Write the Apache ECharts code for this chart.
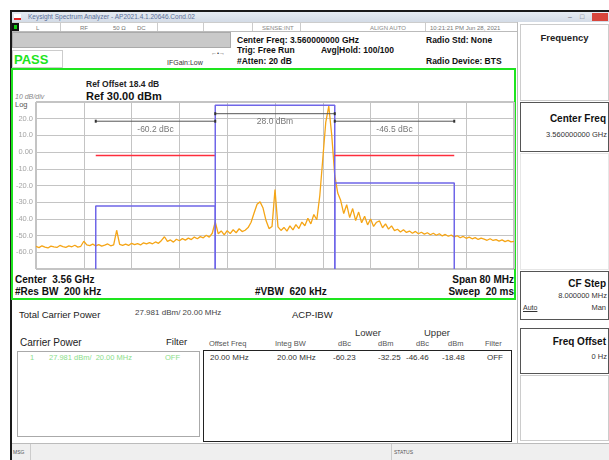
<!DOCTYPE html>
<html>
<head>
<meta charset="utf-8">
<title>ACP</title>
<script src="https://cdn.jsdelivr.net/npm/echarts@6/dist/echarts.min.js"></script>
<style>
body { margin: 0; }
#page { position: relative; width: 609px; height: 460px; background: #fff; overflow: hidden; font-family: "Liberation Sans", Arial, sans-serif; color: #111; }
.a { position: absolute; white-space: pre; line-height: 1; }
.b { font-weight: bold; }
.box { position: absolute; box-sizing: border-box; }
#chart { position: absolute; left: 0; top: 0; width: 609px; height: 460px; z-index: 5; }
</style>
</head>
<body>
<div id="page">
  <!-- window frame -->
  <div class="box" style="left:10px;top:10px;width:599px;height:450px;border-top:2px solid #1a1a1a;border-left:2px solid #1a1a1a;"></div>
  <div class="box" style="left:12px;top:12px;width:597px;height:10px;background:linear-gradient(#e6ecf3,#d3dbe6);"></div>
  <div class="box" style="left:14px;top:14px;width:7px;height:6px;background:#fff;border-bottom:2px solid #d22;"></div>
  <div class="a" style="left:28px;top:14px;font-size:6.5px;color:#5a6f98;">Keysight Spectrum Analyzer - AP2021.4.1.20646.Cond.02</div>
  <div class="a" style="left:568px;top:13px;font-size:7px;color:#667;">–</div>
  <div class="a" style="left:580px;top:13px;font-size:7px;color:#667;">□</div>
  <div class="box" style="left:592px;top:13px;width:16px;height:8px;background:#d8453b;"></div>

  <!-- toolbar -->
  <div class="box" style="left:12px;top:22px;width:505px;height:10px;background:#fff;border-top:1px solid #ccc;border-bottom:1px solid #bbb;"></div>
  <div class="box" style="left:12px;top:23px;width:7px;height:8px;background:#1c1;border:2px solid #111;"></div>
  <div class="a" style="left:36px;top:24.5px;font-size:6px;color:#777;">L</div>
  <div class="a" style="left:80px;top:24.5px;font-size:6px;color:#777;">RF</div>
  <div class="a" style="left:113px;top:24.5px;font-size:6px;color:#777;">50 Ω</div>
  <div class="a" style="left:137px;top:24.5px;font-size:6px;color:#777;">DC</div>
  <div class="a" style="left:262px;top:24.5px;font-size:6px;color:#888;">SENSE:INT</div>
  <div class="a" style="left:370px;top:24.5px;font-size:6px;color:#888;">ALIGN AUTO</div>
  <div class="a" style="left:430px;top:24.5px;font-size:6px;color:#777;">10:21:21 PM Jun 28, 2021</div>
  <div class="box" style="left:60px;top:23px;width:1px;height:8px;background:#ccc;"></div>
  <div class="box" style="left:157px;top:23px;width:1px;height:8px;background:#ccc;"></div>
  <div class="box" style="left:203px;top:23px;width:1px;height:8px;background:#ccc;"></div>
  <div class="box" style="left:252px;top:23px;width:1px;height:8px;background:#ccc;"></div>
  <div class="box" style="left:300px;top:23px;width:1px;height:8px;background:#ccc;"></div>
  <div class="box" style="left:425px;top:23px;width:1px;height:8px;background:#ccc;"></div>

  <!-- status area -->
  <div class="box" style="left:12px;top:32px;width:219px;height:16px;background:#c9c9c9;border:1px solid #aaa;"></div>
  <div class="a b" style="left:237px;top:35.5px;font-size:8.5px;">Center Freq: 3.560000000 GHz</div>
  <div class="a b" style="left:237px;top:46px;font-size:8.5px;">Trig: Free Run</div>
  <div class="a b" style="left:237px;top:57px;font-size:8.5px;">#Atten: 20 dB</div>
  <div class="a b" style="left:321px;top:46px;font-size:8.5px;">Avg|Hold: 100/100</div>
  <div class="a b" style="left:426px;top:35.5px;font-size:8.5px;">Radio Std: None</div>
  <div class="a b" style="left:426px;top:56.5px;font-size:8.5px;">Radio Device: BTS</div>
  <div class="box" style="left:12px;top:50px;width:51px;height:18px;border:1px solid #ccc;"></div>
  <div class="a b" style="left:14px;top:52.5px;font-size:13px;color:#1de41d;">PASS</div>
  <div class="a" style="left:167px;top:59px;font-size:7px;color:#333;">IFGain:Low</div>
  <div class="a" style="left:211px;top:50px;font-size:6px;color:#444;">←•→</div>

  <!-- graph frame -->
  <div class="box" style="left:11px;top:68px;width:505px;height:232px;border:2px solid #1ee41e;background:#fff;"></div>
  <div class="a b" style="left:86px;top:80px;font-size:8.5px;color:#222;">Ref Offset 18.4 dB</div>
  <div class="a b" style="left:86px;top:90.5px;font-size:11px;">Ref 30.00 dBm</div>
  <div class="a" style="left:15px;top:93px;font-size:7px;color:#888;font-style:italic;">10 dB/div</div>
  <div class="a" style="left:15px;top:100.5px;font-size:7.5px;color:#555;">Log</div>
  <div class="a b" style="left:15px;top:275px;font-size:10px;">Center  3.56 GHz</div>
  <div class="a b" style="left:15px;top:287px;font-size:10px;">#Res BW  200 kHz</div>
  <div class="a b" style="left:255px;top:287px;font-size:10px;">#VBW  620 kHz</div>
  <div class="a b" style="right:95px;top:275px;font-size:10px;">Span 80 MHz</div>
  <div class="a b" style="right:95px;top:287px;font-size:10px;">Sweep  20 ms</div>

  <!-- results -->
  <div class="a" style="left:19px;top:310px;font-size:9.5px;color:#222;">Total Carrier Power</div>
  <div class="a" style="left:135px;top:309px;font-size:8px;color:#444;">27.981 dBm/ 20.00 MHz</div>
  <div class="a" style="left:292px;top:310px;font-size:9.5px;color:#222;">ACP-IBW</div>
  <div class="a" style="left:355px;top:327.5px;font-size:9.5px;color:#333;">Lower</div>
  <div class="a" style="left:424px;top:327.5px;font-size:9.5px;color:#333;">Upper</div>
  <div class="a" style="left:20px;top:338px;font-size:10px;color:#222;">Carrier Power</div>
  <div class="a" style="left:166px;top:337px;font-size:9.5px;color:#222;">Filter</div>
  <div class="a" style="left:209px;top:340px;font-size:7.5px;color:#555;">Offset Freq</div>
  <div class="a" style="left:275px;top:340px;font-size:7.5px;color:#555;">Integ BW</div>
  <div class="a" style="left:338px;top:340px;font-size:7.5px;color:#555;">dBc</div>
  <div class="a" style="left:378px;top:340px;font-size:7.5px;color:#555;">dBm</div>
  <div class="a" style="left:416px;top:340px;font-size:7.5px;color:#555;">dBc</div>
  <div class="a" style="left:448px;top:340px;font-size:7.5px;color:#555;">dBm</div>
  <div class="a" style="left:485px;top:340px;font-size:7.5px;color:#555;">Filter</div>
  <div class="box" style="left:17px;top:351px;width:183px;height:86px;border:1px solid #aaa;"></div>
  <div class="box" style="left:203px;top:350px;width:309px;height:92px;border:1.5px solid #222;"></div>
  <div class="a" style="left:30px;top:354px;font-size:7.5px;color:#8ade8a;">1</div>
  <div class="a" style="left:49px;top:354px;font-size:7.5px;color:#8ade8a;">27.981 dBm/  20.00 MHz</div>
  <div class="a" style="left:165px;top:354px;font-size:7.5px;color:#8ade8a;">OFF</div>
  <div class="a" style="left:210px;top:353.5px;font-size:8px;color:#333;">20.00 MHz</div>
  <div class="a" style="left:277px;top:353.5px;font-size:8px;color:#333;">20.00 MHz</div>
  <div class="a" style="left:333px;top:353.5px;font-size:8px;color:#333;">-60.23</div>
  <div class="a" style="left:378px;top:353.5px;font-size:8px;color:#333;">-32.25</div>
  <div class="a" style="left:406px;top:353.5px;font-size:8px;color:#333;">-46.46</div>
  <div class="a" style="left:442px;top:353.5px;font-size:8px;color:#333;">-18.48</div>
  <div class="a" style="left:487px;top:353.5px;font-size:8px;color:#333;">OFF</div>

  <!-- soft keys -->
  <div class="box" style="left:517px;top:22px;width:1px;height:421px;background:#bbb;"></div>
  <div class="box" style="left:520px;top:24px;width:89px;height:77px;border:1px solid #ccc;"></div>
  <div class="a b" style="left:520px;width:89px;text-align:center;top:33px;font-size:9.5px;color:#222;">Frequency</div>
  <div class="box" style="left:520px;top:102px;width:89px;height:50px;border:1px solid #555;"></div>
  <div class="a b" style="right:3px;top:114px;font-size:10px;">Center Freq</div>
  <div class="a" style="right:2px;top:131px;font-size:7.5px;color:#333;">3.560000000 GHz</div>
  <div class="box" style="left:520px;top:153px;width:89px;height:117px;border:1px solid #e6e6e6;"></div>
  <div class="box" style="left:520px;top:271px;width:89px;height:49px;border:1px solid #555;"></div>
  <div class="a b" style="right:3px;top:279px;font-size:10px;">CF Step</div>
  <div class="a" style="right:2px;top:292px;font-size:7.5px;color:#333;">8.000000 MHz</div>
  <div class="a" style="left:523px;top:304px;font-size:7px;color:#333;text-decoration:underline;">Auto</div>
  <div class="a" style="right:3px;top:304px;font-size:7.5px;color:#333;">Man</div>
  <div class="box" style="left:520px;top:328px;width:89px;height:46px;border:1px solid #555;"></div>
  <div class="a b" style="right:3px;top:337px;font-size:10px;">Freq Offset</div>
  <div class="a" style="right:2px;top:353px;font-size:7.5px;color:#333;">0 Hz</div>
  <div class="box" style="left:520px;top:375px;width:89px;height:66px;border:1px solid #ccc;"></div>

  <!-- message bar -->
  <div class="box" style="left:12px;top:443px;width:597px;height:17px;background:#efefef;border-top:1px solid #bbb;"></div>
  <div class="a" style="left:13px;top:450px;font-size:5px;color:#555;">MSG</div>
  <div class="box" style="left:30px;top:444px;width:1px;height:16px;background:#ccc;"></div>
  <div class="box" style="left:391px;top:444px;width:1px;height:16px;background:#ccc;"></div>
  <div class="a" style="left:394px;top:450px;font-size:5px;color:#555;">STATUS</div>

  <div id="chart"></div>
</div>

<script>
// trace, MHz / dBm
const traceFreq = [
  3520, 3520.5, 3521, 3521.5, 3522, 3522.5, 3523, 3523.5, 3524, 3524.5,
  3525, 3525.5, 3526, 3526.5, 3527, 3527.5, 3528, 3528.5, 3529, 3529.5,
  3530, 3530.5, 3531, 3531.5, 3532, 3532.5, 3533, 3533.5, 3534, 3534.5,
  3535, 3535.5, 3536, 3536.5, 3537, 3537.5, 3538, 3538.5, 3539, 3539.5,
  3540, 3540.5, 3541, 3541.5, 3542, 3542.5, 3543, 3543.5, 3544, 3544.5,
  3545, 3545.5, 3546, 3546.5, 3547, 3547.5, 3548, 3548.5, 3549, 3549.5,
  3550, 3550.5, 3551, 3551.5, 3552, 3552.5, 3553, 3553.5, 3554, 3554.5,
  3555, 3555.5, 3556, 3556.5, 3557, 3557.5, 3558, 3558.5, 3559, 3559.5,
  3560, 3560.5, 3561, 3561.5, 3562, 3562.5, 3563, 3563.5, 3564, 3564.5,
  3565, 3565.5, 3566, 3566.5, 3567, 3567.5, 3568, 3568.5, 3569, 3569.5,
  3570, 3570.5, 3571, 3571.5, 3572, 3572.5, 3573, 3573.5, 3574, 3574.5,
  3575, 3575.5, 3576, 3576.5, 3577, 3577.5, 3578, 3578.5, 3579, 3579.5,
  3580, 3580.5, 3581, 3581.5, 3582, 3582.5, 3583, 3583.5, 3584, 3584.5,
  3585, 3585.5, 3586, 3586.5, 3587, 3587.5, 3588, 3588.5, 3589, 3589.5,
  3590, 3590.5, 3591, 3591.5, 3592, 3592.5, 3593, 3593.5, 3594, 3594.5,
  3595, 3595.5, 3596, 3596.5, 3597, 3597.5, 3598, 3598.5, 3599, 3599.5,
  3600
];
const traceLevel = [
  -56.5, -57.2, -56.1, -56.9, -57.4, -56.3, -56.8, -57.1, -55.9, -56.6,
  -57.0, -56.2, -56.7, -55.8, -56.9, -56.4, -53.4, -55.6, -56.0, -55.1,
  -56.2, -55.4, -56.3, -55.7, -55.0, -56.1, -55.5, -46.8, -55.2, -55.8,
  -55.1, -55.9, -54.6, -55.4, -54.8, -55.6, -54.3, -55.0, -54.2, -54.9,
  -53.8, -54.6, -52.9, -50.7, -53.5, -52.6, -53.9, -52.2, -53.1, -51.8,
  -52.7, -51.5, -52.4, -50.9, -51.9, -50.6, -51.3, -49.8, -50.9, -48.6,
  -41.8, -48.9, -47.2, -49.6, -47.0, -48.8, -46.5, -48.3, -45.9, -47.6,
  -46.8, -45.2, -42.0, -36.5, -31.2, -29.8, -33.5, -41.0, -45.8, -44.6,
  -22.5, -44.8, -46.9, -45.1, -47.3, -44.2, -46.6, -43.4, -45.8, -41.9,
  -44.1, -39.6, -43.0, -37.4, -40.5, -26.0, -4.0, 18.0, 27.6, 10.0,
  -14.0, -24.5, -29.0, -36.8, -31.5, -39.2, -33.8, -41.0, -35.9, -42.3,
  -38.4, -43.6, -40.1, -44.5, -42.0, -41.2, -45.3, -43.0, -46.1, -44.2,
  -47.0, -46.2, -47.8, -46.5, -48.1, -47.3, -48.6, -47.5, -48.9, -48.0,
  -49.1, -48.3, -49.5, -48.6, -49.8, -48.9, -50.2, -49.3, -50.4, -49.7,
  -50.8, -50.1, -51.3, -50.5, -51.6, -50.9, -51.9, -51.2, -52.3, -51.5,
  -52.1, -52.8, -51.9, -52.9, -52.4, -53.3, -52.6, -53.6, -52.9, -53.8,
  -53.4
];

// lower adjacent, carrier, upper adjacent
const channelStart = [3530, 3550, 3570];
const channelStop = [3550, 3570, 3590];
const channelPower = [-32.25, 27.98, -18.48];
const limitLevel = [-2.02, null, -2.02];
const bracketLevel = [18.5, 23.0, 18.5];
const bracketText = ["-60.2 dBc", "28.0 dBm", "-46.5 dBc"];
const bracketTextLevel = [13.3, 18.2, 13.3];

const refLevel = 30;
const bottomLevel = -70;

const chart = echarts.init(document.getElementById("chart"));

const series = [
  {
    type: "line",
    data: traceFreq.map((f, i) => [f, traceLevel[i]]),
    symbol: "none",
    itemStyle: { color: "#f5a516" },
    lineStyle: { color: "#f5a516", width: 1.3 },
    z: 2,
  },
];

channelStart.forEach((start, i) => {
  const stop = channelStop[i];
  series.push({
    type: "line",
    data: [
      [start, bottomLevel],
      [start, channelPower[i]],
      [stop, channelPower[i]],
      [stop, bottomLevel],
    ],
    symbol: "none",
    itemStyle: { color: "#6f66e8" },
    lineStyle: { color: "#6f66e8", width: 1.5 },
    z: 3,
  });
  if (limitLevel[i] !== null) {
    series.push({
      type: "line",
      data: [
        [start, limitLevel[i]],
        [stop, limitLevel[i]],
      ],
      symbol: "none",
      itemStyle: { color: "#ff2d3c" },
      lineStyle: { color: "#ff2d3c", width: 1.5 },
      z: 3,
    });
  }
  series.push({
    type: "line",
    data: [
      [start, bracketLevel[i]],
      [stop, bracketLevel[i]],
    ],
    symbol: "rect",
    symbolSize: [2, 3],
    itemStyle: { color: "#333" },
    lineStyle: { color: "#555", width: 1 },
    z: 4,
  });
});

series.push({
  type: "scatter",
  data: bracketText.map((t, i) => [
    (channelStart[i] + channelStop[i]) / 2,
    bracketTextLevel[i],
    t,
  ]),
  symbolSize: 0,
  label: {
    show: true,
    position: "inside",
    formatter: (p) => p.value[2],
    color: "#555",
    fontSize: 8.5,
    fontFamily: "Liberation Sans",
  },
  z: 4,
});

chart.setOption({
  animation: false,
  backgroundColor: "transparent",
  grid: {
    left: 36,
    top: 102,
    width: 478,
    height: 167,
    show: true,
    borderColor: "#888",
    borderWidth: 1,
  },
  xAxis: {
    type: "value",
    min: 3520,
    max: 3600,
    interval: 8,
    axisLine: { show: false },
    axisTick: { show: false },
    axisLabel: { show: false },
    splitLine: { lineStyle: { color: "#c4c4c4", width: 1 } },
  },
  yAxis: {
    type: "value",
    min: bottomLevel,
    max: refLevel,
    interval: 10,
    axisLine: { show: false },
    axisTick: { show: false },
    splitLine: { lineStyle: { color: "#c4c4c4", width: 1 } },
    axisLabel: {
      showMinLabel: false,
      showMaxLabel: false,
      margin: 3,
      color: "#a4a4a4",
      fontSize: 7.5,
      fontFamily: "Liberation Sans",
      formatter: (v) => (v === 0 ? "0.00" : v.toFixed(1)),
    },
  },
  series: series,
});
</script>
</body>
</html>
